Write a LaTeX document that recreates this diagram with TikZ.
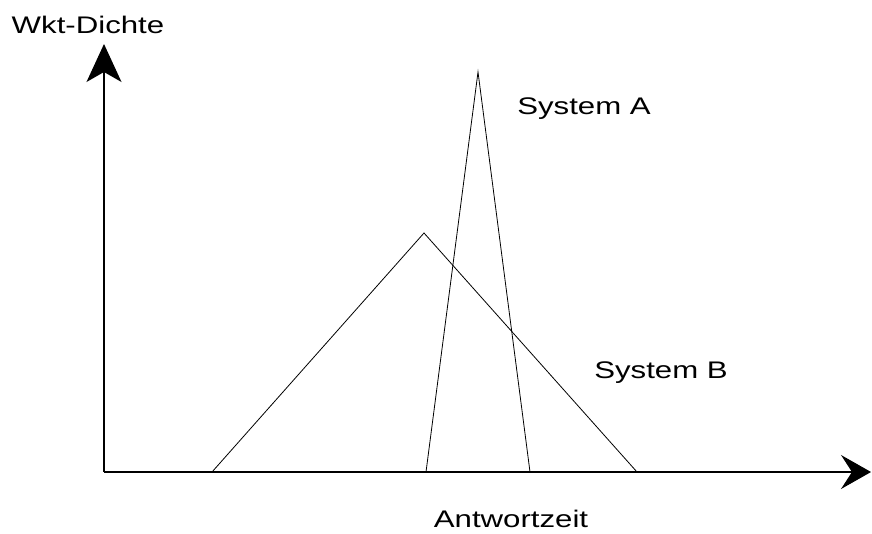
\documentclass[tikz,border=0pt]{standalone}
\usepackage{fontspec}
\setmainfont{Liberation Sans}
\usetikzlibrary{arrows.meta}
\begin{document}
\begin{tikzpicture}[x=1pt,y=-1pt,
  axis/.style={line width=1.1pt,black},
  curve/.style={line width=0.8pt,black,line join=miter},
  lbl/.style={anchor=base,inner sep=0pt,font=\fontsize{24}{28}\selectfont}]
  \useasboundingbox (0,0) rectangle (872,533);
  % axes
  \coordinate (o) at (104,472);
  \coordinate (ytip) at (104,44);
  \coordinate (xtip) at (871,472);
  \draw[axis,-{Stealth[length=38pt,width=35pt,inset=10pt]}] (o) -- (ytip);
  \draw[axis,-{Stealth[length=30pt,width=34pt,inset=11pt]}] (o) -- (xtip);
  % density of system B (wide triangle)
  \coordinate (b1) at (212,472);
  \coordinate (bt) at (424,233);
  \coordinate (b2) at (637,472);
  \draw[curve] (b1) -- (bt) -- (b2);
  % density of system A (narrow triangle)
  \coordinate (a1) at (426,472);
  \coordinate (at) at (478,72);
  \coordinate (a2) at (530,472);
  \draw[curve] (a1) -- (at) -- (a2);
  % labels
  \node[lbl] (ylab) at (88,33) {\scalebox{1.3}[1]{Wkt-Dichte}};
  \node[lbl] (la) at (584,114) {\scalebox{1.3}[1]{System A}};
  \node[lbl] (lb) at (661,378) {\scalebox{1.3}[1]{System B}};
  \node[lbl] (xlab) at (511,527) {\scalebox{1.3}[1]{Antwortzeit}};
\end{tikzpicture}
\end{document}
